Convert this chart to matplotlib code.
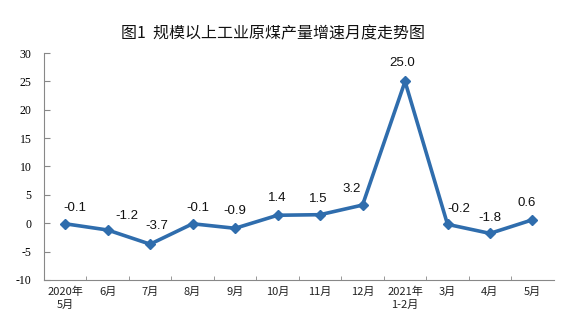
import matplotlib.pyplot as plt
import numpy as np

plt.rcParams['font.family'] = ['Noto Sans CJK SC', 'DejaVu Sans']

# data
months = ['2020年\n5月', '6月', '7月', '8月', '9月', '10月', '11月', '12月',
          '2021年\n1-2月', '3月', '4月', '5月']
growth = [-0.1, -1.2, -3.7, -0.1, -0.9, 1.4, 1.5, 3.2, 25.0, -0.2, -1.8, 0.6]

# label offsets (points) relative to each marker
label_dx = [7, 14, 5, 4, 0, 0, -1, -8, -2, 8, 0, -4]
label_dy = [7, 6, 9, 7, 8, 8, 7, 7, 9, 7, 7, 8]

line_color = '#2F6DAD'

fig = plt.figure(figsize=(5.78, 3.34), dpi=100)
ax = fig.add_axes([0.076, 0.162, 0.882, 0.679])

x = np.arange(len(months))
ax.plot(x, growth, color=line_color, lw=2.6, marker='D', ms=5.5,
        markeredgecolor=line_color, markerfacecolor=line_color)

for i, v in enumerate(growth):
    ax.annotate('{:.1f}'.format(v), (x[i], v), xytext=(label_dx[i], label_dy[i]),
                textcoords='offset points', ha='center', va='bottom',
                fontsize=9.5, family='Liberation Sans', color='#111111')

ax.set_xlim(-0.5, len(months) - 0.5)
ax.set_ylim(-10, 30)
ax.set_yticks(range(-10, 31, 5))
ax.set_yticklabels([str(t) for t in range(-10, 31, 5)], family='Liberation Serif', fontsize=8.5)
ax.set_xticks(x)
ax.set_xticklabels(months, fontsize=8, color='#222222', linespacing=1.3)
ax.set_xticks(np.arange(0.5, len(months) - 0.5, 1), minor=True)

ax.tick_params(axis='y', direction='in', length=4, color='#888888', pad=9)
ax.tick_params(axis='x', which='major', length=0, pad=5)
ax.tick_params(axis='x', which='minor', direction='in', length=3, color='#888888')

for s in ['top', 'right']:
    ax.spines[s].set_visible(False)
for s in ['left', 'bottom']:
    ax.spines[s].set_color('#888888')
    ax.spines[s].set_linewidth(0.8)

fig.text(0.472, 0.9, '图1  规模以上工业原煤产量增速月度走势图', ha='center', va='center',
         fontsize=11.5, weight='medium', color='#111111')

fig.savefig('out.png', dpi=100)
